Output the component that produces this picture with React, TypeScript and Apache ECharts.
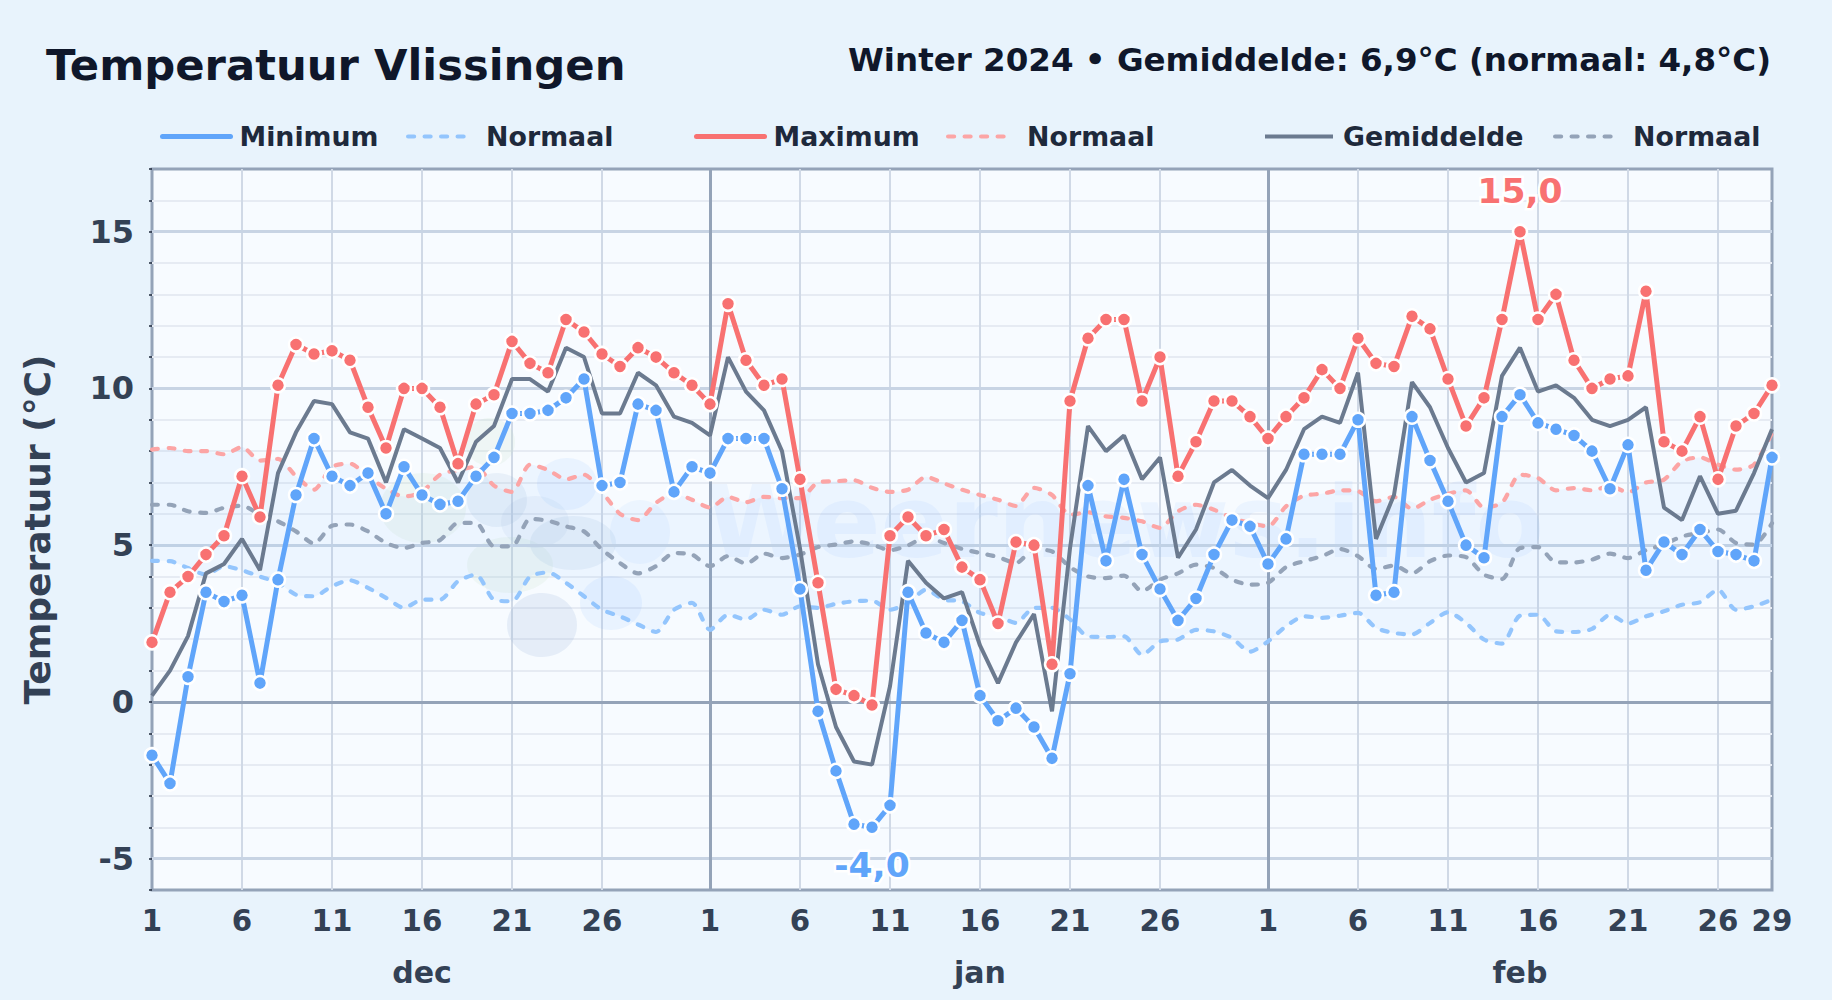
import React, { useEffect, useRef } from "react";
import * as echarts from "echarts";

const FONT = "'DejaVu Sans', sans-serif";
const monthNames = ["dec", "jan", "feb"];
const monthLengths = [31, 31, 29];
const monthLabelIndexes = [15, 46, 76];
const dayTickIndexes = [0, 5, 10, 15, 20, 25, 31, 36, 41, 46, 51, 56, 62, 67, 72, 77, 82, 87, 90];

const maxTemp = [
  1.9, 3.5, 4.0, 4.7, 5.3, 7.2, 5.9, 10.1, 11.4, 11.1, 11.2, 10.9, 9.4, 8.1, 10.0, 10.0, 9.4, 7.6, 9.5, 9.8, 11.5, 10.8, 10.5, 12.2, 11.8, 11.1, 10.7, 11.3, 11.0, 10.5, 10.1,
  9.5, 12.7, 10.9, 10.1, 10.3, 7.1, 3.8, 0.4, 0.2, -0.1, 5.3, 5.9, 5.3, 5.5, 4.3, 3.9, 2.5, 5.1, 5.0, 1.2, 9.6, 11.6, 12.2, 12.2, 9.6, 11.0, 7.2, 8.3, 9.6, 9.6, 9.1,
  8.4, 9.1, 9.7, 10.6, 10.0, 11.6, 10.8, 10.7, 12.3, 11.9, 10.3, 8.8, 9.7, 12.2, 15.0, 12.2, 13.0, 10.9, 10.0, 10.3, 10.4, 13.1, 8.3, 8.0, 9.1, 7.1, 8.8, 9.2, 10.1,
];
const minTemp = [
  -1.7, -2.6, 0.8, 3.5, 3.2, 3.4, 0.6, 3.9, 6.6, 8.4, 7.2, 6.9, 7.3, 6.0, 7.5, 6.6, 6.3, 6.4, 7.2, 7.8, 9.2, 9.2, 9.3, 9.7, 10.3, 6.9, 7.0, 9.5, 9.3, 6.7, 7.5,
  7.3, 8.4, 8.4, 8.4, 6.8, 3.6, -0.3, -2.2, -3.9, -4.0, -3.3, 3.5, 2.2, 1.9, 2.6, 0.2, -0.6, -0.2, -0.8, -1.8, 0.9, 6.9, 4.5, 7.1, 4.7, 3.6, 2.6, 3.3, 4.7, 5.8, 5.6,
  4.4, 5.2, 7.9, 7.9, 7.9, 9.0, 3.4, 3.5, 9.1, 7.7, 6.4, 5.0, 4.6, 9.1, 9.8, 8.9, 8.7, 8.5, 8.0, 6.8, 8.2, 4.2, 5.1, 4.7, 5.5, 4.8, 4.7, 4.5, 7.8,
];
const meanTemp = [
  0.2, 1.0, 2.1, 4.1, 4.4, 5.2, 4.2, 7.3, 8.6, 9.6, 9.5, 8.6, 8.4, 7.0, 8.7, 8.4, 8.1, 7.0, 8.3, 8.8, 10.3, 10.3, 9.9, 11.3, 11.0, 9.2, 9.2, 10.5, 10.1, 9.1, 8.9,
  8.5, 11.0, 9.9, 9.3, 8.0, 4.9, 1.2, -0.8, -1.9, -2.0, 0.5, 4.5, 3.8, 3.3, 3.5, 1.8, 0.6, 1.9, 2.8, -0.3, 4.9, 8.8, 8.0, 8.5, 7.1, 7.8, 4.6, 5.5, 7.0, 7.4, 6.9,
  6.5, 7.4, 8.7, 9.1, 8.9, 10.5, 5.2, 6.6, 10.2, 9.4, 8.1, 7.0, 7.3, 10.4, 11.3, 9.9, 10.1, 9.7, 9.0, 8.8, 9.0, 9.4, 6.2, 5.8, 7.2, 6.0, 6.1, 7.3, 8.7,
];
const normalMax = [
  8.05, 8.1, 8.0, 8.0, 7.9, 8.13, 7.7, 7.75, 7.2, 6.77, 7.5, 7.6, 7.2, 6.8, 6.55, 6.7, 7.25, 7.4, 7.5, 6.9, 6.7, 7.57, 7.4, 7.1, 7.25, 6.7, 6.0, 5.8, 6.35, 6.65, 6.45,
  6.2, 6.54, 6.37, 6.54, 6.5, 6.5, 7.0, 7.04, 7.07, 6.83, 6.7, 6.77, 7.18, 6.97, 6.77, 6.6, 6.45, 6.25, 6.83, 6.6, 5.97, 6.05, 5.92, 5.87, 5.76, 5.55, 6.08, 6.29, 6.13, 5.87, 5.7,
  5.6, 6.24, 6.58, 6.64, 6.75, 6.72, 6.4, 6.54, 6.16, 6.45, 6.64, 6.75, 6.2, 6.35, 7.25, 7.14, 6.75, 6.82, 6.75, 6.88, 6.69, 7.0, 7.09, 7.68, 7.8, 7.57, 7.41, 7.57, 8.58,
];
const normalMean = [
  6.29, 6.29, 6.08, 6.03, 6.19, 6.26, 5.97, 5.76, 5.44, 5.05, 5.62, 5.66, 5.44, 5.07, 4.91, 5.07, 5.16, 5.71, 5.71, 4.96, 4.96, 5.84, 5.78, 5.6, 5.44, 4.86, 4.43, 4.1, 4.33, 4.75, 4.7,
  4.33, 4.65, 4.41, 4.73, 4.59, 4.7, 4.94, 5.02, 5.12, 5.02, 4.84, 4.99, 5.26, 5.07, 4.88, 4.75, 4.62, 4.43, 4.86, 4.8, 4.3, 4.0, 3.95, 4.03, 3.53, 3.9, 4.1, 4.38, 4.27, 3.9, 3.74,
  3.8, 4.3, 4.49, 4.65, 4.88, 4.65, 4.24, 4.35, 4.1, 4.49, 4.67, 4.62, 4.06, 3.92, 4.91, 4.94, 4.45, 4.45, 4.54, 4.73, 4.59, 4.84, 5.02, 5.28, 5.39, 5.5, 5.07, 5.02, 5.7,
];
const normalMin = [
  4.5, 4.49, 4.27, 4.06, 4.33, 4.2, 4.0, 3.8, 3.42, 3.37, 3.69, 3.88, 3.64, 3.32, 3.0, 3.26, 3.26, 3.85, 4.06, 3.26, 3.21, 4.0, 4.13, 3.8, 3.37, 2.94, 2.73, 2.47, 2.23, 2.94, 3.16,
  2.3, 2.78, 2.63, 2.94, 2.78, 3.05, 3.0, 3.13, 3.21, 3.23, 2.94, 3.16, 3.58, 3.26, 3.21, 2.84, 2.73, 2.52, 3.0, 3.0, 2.63, 2.09, 2.07, 2.09, 1.5, 1.93, 1.99, 2.3, 2.25, 2.04, 1.6,
  1.93, 2.41, 2.73, 2.68, 2.75, 2.84, 2.36, 2.2, 2.15, 2.52, 2.86, 2.52, 1.99, 1.86, 2.75, 2.78, 2.25, 2.23, 2.33, 2.78, 2.5, 2.73, 2.89, 3.1, 3.18, 3.58, 2.94, 3.05, 3.26,
];

const titleText = "Temperatuur Vlissingen";
const subtitleText = "Winter 2024 • Gemiddelde: 6,9°C (normaal: 4,8°C)";
const yAxisTitle = "Temperatuur (°C)";
const maxLabel = "15,0";
const minLabel = "-4,0";
const majorY = [-5, 5, 10, 15];

const categories: string[] = [];
monthNames.forEach((m, mi) => {
  for (let d = 1; d <= monthLengths[mi]; d++) categories.push(d + " " + m);
});
const monthStarts = [31, 62];

const BLUE = "#60a5fa";
const RED = "#f87171";
const GRAY = "#6b7a8f";
const LIGHT_BLUE = "#93c5fd";
const LIGHT_RED = "#fca5a5";
const LIGHT_GRAY = "#94a3b8";

const dash = [6, 10.5];

function solid(name: string, values: number[], color: string, z: number, labelValue: string, labelPos: string) {
  const extreme = labelPos === "top" ? Math.max(...values) : Math.min(...values);
  return {
    type: "line",
    name,
    z,
    data: values.map((v) =>
      v === extreme
        ? {
            value: v,
            label: {
              show: true,
              position: labelPos,
              distance: labelPos === "top" ? 15 : 12,
              formatter: labelValue,
              color: color,
              fontFamily: FONT,
              fontWeight: "bold",
              fontSize: 34.5,
              textBorderColor: "#ffffff",
              textBorderWidth: 5,
            },
          }
        : v
    ),
    symbol: "circle",
    symbolSize: 14,
    showAllSymbol: true,
    itemStyle: { color, borderColor: "#ffffff", borderWidth: 2.5 },
    lineStyle: { color, width: 5, cap: "round", join: "round" },
    emphasis: { disabled: true },
  };
}

function meanLine(name: string, values: number[], color: string, z: number) {
  return {
    type: "line",
    name,
    z,
    data: values,
    symbol: "none",
    itemStyle: { color },
    lineStyle: { color, width: 4 },
    emphasis: { disabled: true },
  };
}

function normalLine(name: string, values: number[], color: string) {
  return {
    type: "line",
    name,
    z: 2,
    data: values,
    smooth: 0.25,
    symbol: "none",
    itemStyle: { color },
    lineStyle: { color, width: 4.2, type: dash, cap: "round" },
    emphasis: { disabled: true },
  };
}

function legendItem(name: string, left: number, width: number, pad: number, line: object) {
  return {
    show: true,
    data: [name],
    left,
    top: 123,
    padding: 0,
    itemWidth: width,
    itemHeight: 14,
    selectedMode: false,
    itemStyle: { opacity: 0 },
    lineStyle: line,
    formatter: (n: string) => n.split(" ")[0],
    textStyle: {
      fontFamily: FONT,
      fontWeight: "bold",
      fontSize: 26.8,
      color: "#1e293b",
      padding: [0, 0, 0, pad],
    },
  };
}

function blob(cx: number, cy: number, rx: number, ry: number, fill: string) {
  return { type: "ellipse", z: 1, silent: true, shape: { cx, cy, rx, ry }, style: { fill } };
}

const thickLine = { width: 5, cap: "round" };
const meanLegendLine = { width: 4 };
const dashLegendLine = { width: 4.2, type: dash, cap: "round" };

export default function App() {
  const ref = useRef<HTMLDivElement>(null);
  useEffect(() => {
    document.body.style.margin = "0";
    const chart = echarts.init(ref.current!, undefined, { renderer: "svg" });
    chart.setOption({
      animation: false,
      backgroundColor: "#e8f3fc",
      textStyle: { fontFamily: FONT },
      title: [
        {
          text: titleText,
          left: 46,
          top: 43,
          padding: 0,
          textStyle: { fontFamily: FONT, fontWeight: "bold", fontSize: 43.3, color: "#0f172a" },
        },
        {
          text: subtitleText,
          right: 61,
          top: 43,
          padding: 0,
          textStyle: { fontFamily: FONT, fontWeight: "bold", fontSize: 32.5, color: "#0f172a" },
        },
      ],
      legend: [
        legendItem("Minimum", 160, 68, 4, thickLine),
        legendItem("Normaal min", 406, 60, 13, dashLegendLine),
        legendItem("Maximum", 694, 68, 4, thickLine),
        legendItem("Normaal max", 946, 60, 14, dashLegendLine),
        legendItem("Gemiddelde", 1263, 68, 5, meanLegendLine),
        legendItem("Normaal gem", 1553, 60, 13, dashLegendLine),
      ],
      grid: {
        left: 152,
        right: 60,
        top: 169,
        bottom: 110,
        show: true,
        backgroundColor: "#f7fbff",
        borderColor: LIGHT_GRAY,
        borderWidth: 3,
      },
      graphic: [
        blob(423, 508, 43, 35, "rgba(187,222,190,0.15)"),
        blob(490, 442, 25, 24, "rgba(187,222,190,0.15)"),
        blob(510, 565, 43, 28, "rgba(187,222,190,0.15)"),
        blob(497, 500, 30, 27, "rgba(148,178,215,0.15)"),
        blob(535, 522, 34, 26, "rgba(148,178,215,0.10)"),
        blob(573, 543, 43, 27, "rgba(148,178,215,0.15)"),
        blob(567, 484, 30, 26, "rgba(96,165,250,0.09)"),
        blob(640, 532, 30, 32, "rgba(96,165,250,0.07)"),
        blob(611, 603, 31, 27, "rgba(96,165,250,0.09)"),
        blob(542, 625, 35, 32, "rgba(148,178,215,0.18)"),
        {
          type: "text",
          z: 1,
          silent: true,
          x: 706,
          y: 522,
          style: {
            text: "Weernews.info",
            fontFamily: FONT,
            fontWeight: "bold",
            fontSize: 100,
            fill: "rgba(96,165,250,0.08)",
            textVerticalAlign: "middle",
          },
        },
      ],
      xAxis: [
        {
          type: "category",
          data: categories,
          boundaryGap: false,
          axisLine: { show: false },
          axisTick: { show: false },
          axisLabel: {
            interval: (i: number) => dayTickIndexes.includes(i),
            formatter: (v: string) => v.split(" ")[0],
            margin: 16,
            fontFamily: FONT,
            fontWeight: "bold",
            fontSize: 29.3,
            color: "#334155",
          },
          splitLine: {
            show: true,
            interval: (i: number) => dayTickIndexes.includes(i) && i !== 0 && i !== 90,
            lineStyle: { color: "#d0d9e6", width: 2 },
          },
        },
        {
          type: "category",
          position: "bottom",
          data: categories,
          boundaryGap: false,
          axisLine: { show: false },
          axisTick: { show: false },
          splitLine: { show: false },
          axisLabel: {
            interval: (i: number) => monthLabelIndexes.includes(i),
            formatter: (v: string) => v.split(" ")[1],
            margin: 67,
            fontFamily: FONT,
            fontWeight: "bold",
            fontSize: 30,
            color: "#334155",
          },
        },
      ],
      yAxis: {
        type: "value",
        min: -6,
        max: 17,
        interval: 1,
        name: yAxisTitle,
        nameLocation: "middle",
        nameGap: 97,
        nameTextStyle: { fontFamily: FONT, fontWeight: "bold", fontSize: 36, color: "#334155" },
        axisLine: { show: false },
        axisTick: { show: true, length: 3, lineStyle: { color: "#1e293b", width: 1.5 } },
        axisLabel: {
          formatter: (v: number) => (v % 5 === 0 ? String(v) : ""),
          margin: 18,
          padding: [3, 0, 0, 0],
          fontFamily: FONT,
          fontWeight: "bold",
          fontSize: 32,
          color: "#334155",
        },
        splitLine: { show: true, showMinLine: false, showMaxLine: false, lineStyle: { color: "#e6ebf3", width: 2 } },
      },
      series: [
        {
          type: "line",
          name: "band base",
          stack: "band",
          z: 1,
          data: normalMin,
          smooth: 0.25,
          symbol: "none",
          lineStyle: { width: 0, opacity: 0 },
          silent: true,
          markLine: {
            silent: true,
            z: 1,
            symbol: "none",
            label: { show: false },
            data: [
              ...majorY.map((v) => ({ yAxis: v, lineStyle: { color: "#c8d4e4", width: 3, type: "solid" } })),
              { yAxis: 0, lineStyle: { color: LIGHT_GRAY, width: 3, type: "solid" } },
              ...monthStarts.map((i) => ({ xAxis: categories[i], lineStyle: { color: LIGHT_GRAY, width: 3, type: "solid" } })),
            ],
          },
        },
        {
          type: "line",
          name: "band",
          stack: "band",
          z: 1,
          data: normalMax.map((v, i) => v - normalMin[i]),
          smooth: 0.25,
          symbol: "none",
          lineStyle: { width: 0, opacity: 0 },
          areaStyle: { color: "rgba(96,165,250,0.1)" },
          silent: true,
        },
        normalLine("Normaal min", normalMin, LIGHT_BLUE),
        normalLine("Normaal max", normalMax, LIGHT_RED),
        normalLine("Normaal gem", normalMean, LIGHT_GRAY),
        meanLine("Gemiddelde", meanTemp, GRAY, 3),
        solid("Maximum", maxTemp, RED, 4, maxLabel, "top"),
        solid("Minimum", minTemp, BLUE, 5, minLabel, "bottom"),
      ],
    });
    return () => chart.dispose();
  }, []);
  return <div ref={ref} style={{ width: 1832, height: 1000 }} />;
}
